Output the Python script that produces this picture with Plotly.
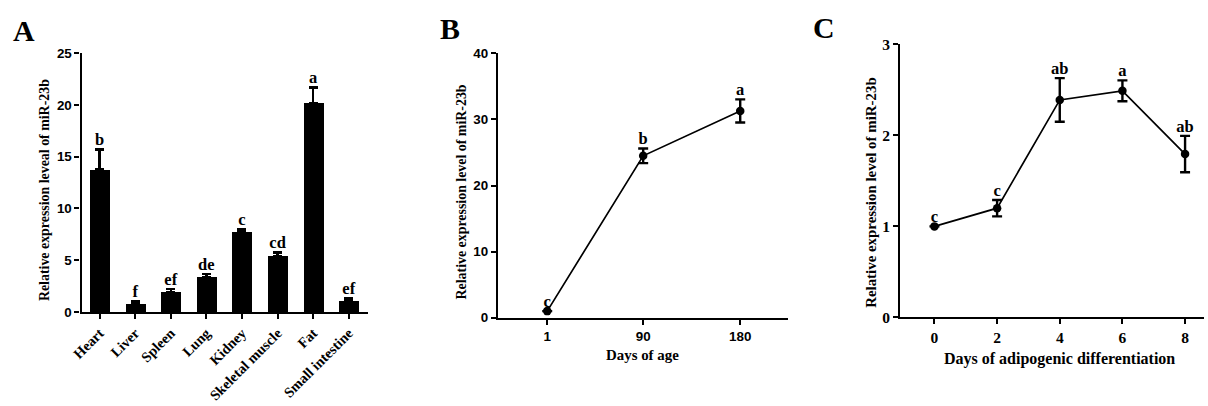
import plotly.graph_objects as go

# ---- data ----
tissues = ["Heart", "Liver", "Spleen", "Lung", "Kidney", "Skeletal muscle", "Fat", "Small intestine"]
tissue_mean = [13.75, 0.77, 1.92, 3.37, 7.69, 5.38, 20.16, 1.03]
tissue_err = [1.95, 0.26, 0.32, 0.32, 0.29, 0.36, 1.51, 0.28]
tissue_letters = ["b", "f", "ef", "de", "c", "cd", "a", "ef"]

age_days = [1, 90, 180]
age_mean = [1.0, 24.5, 31.3]
age_err = [0.0, 1.1, 1.75]
age_letters = ["c", "b", "a"]

diff_days = [0, 2, 4, 6, 8]
diff_mean = [1.0, 1.2, 2.39, 2.49, 1.795]
diff_err = [0.0, 0.09, 0.24, 0.115, 0.2]
diff_letters = ["c", "c", "ab", "a", "ab"]

W, H = 1208, 406
SERIF = "Liberation Serif, Times New Roman, serif"
SANS = "Liberation Sans, Arial, sans-serif"
FS = 1.03  # slight font compensation


def px_x(r):
    p = (r - 9.5) / 0.99
    return min(max(p / W, 0), 1)


def px_y(r):
    p = r * 422 / 406 - 8
    return min(max(1 - p / H, 0), 1)


def fs(v):
    return round(v * FS, 1)


fig = go.Figure()

# Panel A: bars
fig.add_trace(go.Bar(
    x=tissues, y=tissue_mean, width=0.56,
    marker=dict(color="black", line=dict(width=0)),
    error_y=dict(type="data", array=tissue_err, arrayminus=[0] * len(tissue_err),
                 symmetric=False, color="black", thickness=2.4, width=4.5),
    xaxis="x", yaxis="y", showlegend=False,
))
fig.add_trace(go.Scatter(
    x=tissues, y=[m + e for m, e in zip(tissue_mean, tissue_err)],
    mode="text", text=tissue_letters, textposition="top center",
    textfont=dict(family=SERIF, size=fs(16), color="black", weight="bold"),
    cliponaxis=False, xaxis="x", yaxis="y", showlegend=False,
))

# Panel B: line
fig.add_trace(go.Scatter(
    x=age_days, y=age_mean, mode="lines+markers",
    line=dict(color="black", width=1.7),
    marker=dict(color="black", size=8.5),
    error_y=dict(type="data", array=age_err, color="black", thickness=2.4, width=5),
    xaxis="x2", yaxis="y2", showlegend=False, cliponaxis=False,
))
fig.add_trace(go.Scatter(
    x=age_days, y=[m + e for m, e in zip(age_mean, age_err)],
    mode="text", text=age_letters, textposition="top center",
    textfont=dict(family=SERIF, size=fs(16), color="black", weight="bold"),
    cliponaxis=False, xaxis="x2", yaxis="y2", showlegend=False,
))

# Panel C: line
fig.add_trace(go.Scatter(
    x=diff_days, y=diff_mean, mode="lines+markers",
    line=dict(color="black", width=1.7),
    marker=dict(color="black", size=8.5),
    error_y=dict(type="data", array=diff_err, color="black", thickness=2.4, width=5),
    xaxis="x3", yaxis="y3", showlegend=False, cliponaxis=False,
))
fig.add_trace(go.Scatter(
    x=diff_days, y=[m + e for m, e in zip(diff_mean, diff_err)],
    mode="text", text=diff_letters, textposition="top center",
    textfont=dict(family=SERIF, size=fs(16), color="black", weight="bold"),
    cliponaxis=False, xaxis="x3", yaxis="y3", showlegend=False,
))

axis_common = dict(showline=True, linecolor="black", linewidth=2.2, ticks="outside",
                   ticklen=5, tickwidth=2, tickcolor="black", showgrid=False,
                   zeroline=False, mirror=False)
sans_tick = dict(family=SANS, size=fs(13), color="black", weight="bold")
serif_tick = dict(family=SERIF, size=fs(15), color="black", weight="bold")

# panel C axis: left edge at -1.09 (x=898 px), 31.3 px per unit, runs to the page edge
C_DOM_END = 0.997
c_left_px = 898
c_right_px = C_DOM_END * W * 0.99 + 9.5
c_max = -1.09 + (c_right_px - c_left_px) / 31.3

fig.update_layout(
    width=W, height=H, autosize=False,
    margin=dict(l=0, r=0, t=0, b=0),
    paper_bgcolor="white", plot_bgcolor="white",
    bargap=0,
    xaxis=dict(domain=[px_x(80), px_x(366)], anchor="y", type="category",
               range=[-0.506, 7.535], tickangle=-45,
               tickfont=dict(family=SERIF, size=fs(14), color="black", weight="bold"),
               **axis_common),
    yaxis=dict(domain=[px_y(312), px_y(52)], anchor="x", range=[0, 25],
               tickvals=[0, 5, 10, 15, 20, 25], tickfont=sans_tick, **axis_common),
    xaxis2=dict(domain=[px_x(496), px_x(786)], anchor="y2", range=[-44.7, 224.5],
                tickvals=age_days, tickfont=sans_tick, **axis_common),
    yaxis2=dict(domain=[px_y(317.7), px_y(52.3)], anchor="x2", range=[0, 40],
                tickvals=[0, 10, 20, 30, 40], tickfont=sans_tick, **axis_common),
    xaxis3=dict(domain=[px_x(c_left_px), C_DOM_END], anchor="y3", range=[-1.09, c_max],
                tickvals=diff_days, tickfont=serif_tick, **axis_common),
    yaxis3=dict(domain=[px_y(317.3), px_y(43.3)], anchor="x3", range=[0, 3],
                tickvals=[0, 1, 2, 3], tickfont=serif_tick, **axis_common),
)

ann = []


def add_text(text, x, y, size, angle=0):
    ann.append(dict(text=text, x=px_x(x), y=px_y(y), xref="paper", yref="paper",
                    showarrow=False, textangle=angle, xanchor="center", yanchor="middle",
                    font=dict(family=SERIF, size=fs(size), color="black", weight="bold")))


add_text("A", 22, 29, 29)
add_text("B", 448, 27, 29)
add_text("C", 822, 26, 29)
add_text("Relative expression leveal of miR-23b", 43, 190, 13.5, -90)
add_text("Relative expression level of miR-23b", 460, 191, 13.5, -90)
add_text("Relative expression level of miR-23b", 868, 192, 14.5, -90)
add_text("Days of age", 640, 355, 14.5)
add_text("Days of adipogenic differentiation", 1057, 359, 15.5)
fig.update_layout(annotations=ann)

fig.write_html(
    "out.html",
    config={"displayModeBar": False},
    post_script="document.body.style.margin='0';document.body.style.overflow='hidden';",
)
